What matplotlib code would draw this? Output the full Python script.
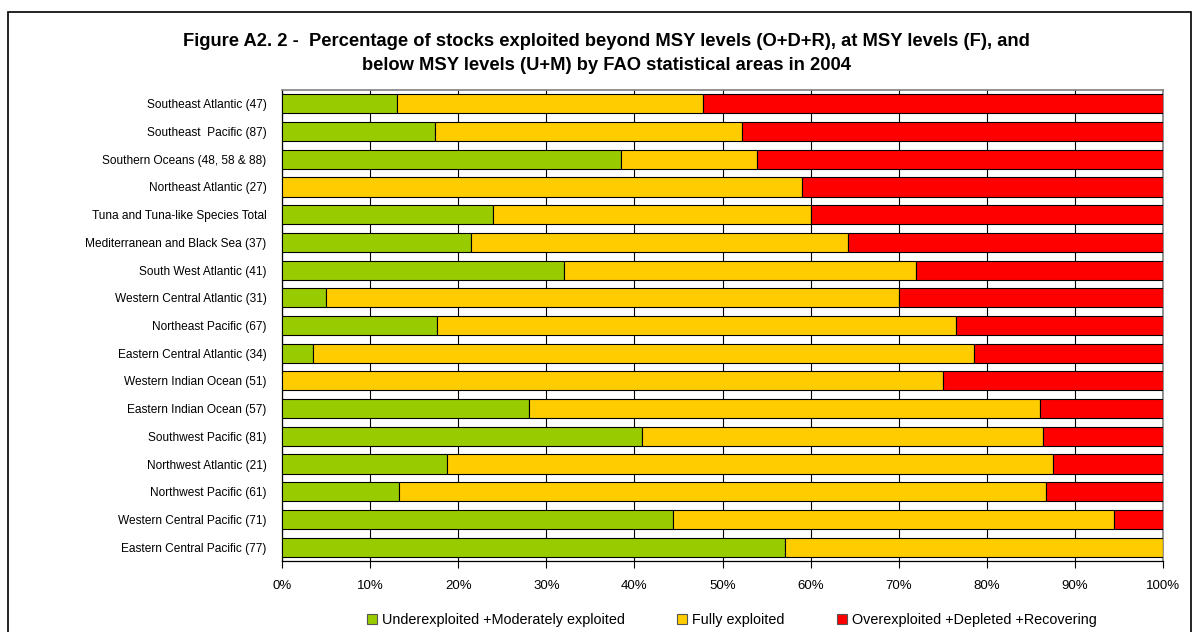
import matplotlib.pyplot as plt
import numpy as np
from matplotlib.patches import Rectangle

plt.rcParams['font.family'] = ['Liberation Sans', 'DejaVu Sans']

areas = [
    "Southeast Atlantic (47)",
    "Southeast  Pacific (87)",
    "Southern Oceans (48, 58 & 88)",
    "Northeast Atlantic (27)",
    "Tuna and Tuna-like Species Total",
    "Mediterranean and Black Sea (37)",
    "South West Atlantic (41)",
    "Western Central Atlantic (31)",
    "Northeast Pacific (67)",
    "Eastern Central Atlantic (34)",
    "Western Indian Ocean (51)",
    "Eastern Indian Ocean (57)",
    "Southwest Pacific (81)",
    "Northwest Atlantic (21)",
    "Northwest Pacific (61)",
    "Western Central Pacific (71)",
    "Eastern Central Pacific (77)",
]

# percent of stocks in each group
under_moderate = [13.0, 17.4, 38.5, 0.0, 24.0, 21.4, 32.0, 5.0, 17.6, 3.5,
                  0.0, 28.0, 40.9, 18.7, 13.3, 44.4, 57.1]
fully = [34.8, 34.8, 15.4, 59.0, 36.0, 42.9, 40.0, 65.0, 58.9, 75.0,
         75.0, 58.0, 45.5, 68.8, 73.4, 50.0, 42.9]
over_depleted = [52.2, 47.8, 46.1, 41.0, 40.0, 35.7, 28.0, 30.0, 23.5, 21.5,
                 25.0, 14.0, 13.6, 12.5, 13.3, 5.6, 0.0]

legend_labels = ["Underexploited +Moderately exploited",
                 "Fully exploited",
                 "Overexploited +Depleted +Recovering"]
colors = ["#99CC00", "#FFCC00", "#FF0000"]

W, H = 1198, 632
fig = plt.figure(figsize=(W / 100, H / 100), dpi=100)
ax = fig.add_axes([282 / W, 1 - 561 / H, (1163 - 282) / W, (561 - 90) / H])

y = np.arange(len(areas))
series = [under_moderate, fully, over_depleted]
left = np.zeros(len(areas))
for vals, col, lab in zip(series, colors, legend_labels):
    vals = np.array(vals)
    ax.barh(y, vals, left=left, height=0.69, color=col,
            edgecolor="black", linewidth=0.8, label=lab, zorder=3)
    left += vals

ax.set_xlim(0, 100)
ax.set_ylim(len(areas) - 0.5, -0.5)
ax.set_xticks(np.arange(0, 101, 10))
ax.set_xticklabels([f"{v}%" for v in range(0, 101, 10)], fontsize=9.5)
ax.set_yticks(y)
ax.set_yticklabels(areas, fontsize=8.6)
ax.tick_params(axis="y", length=0, pad=11)
ax.tick_params(axis="x", length=5, width=0.8, pad=8.5, direction="out")
ax.grid(axis="x", color="black", linewidth=0.8, zorder=0)
ax.set_axisbelow(True)

for side in ["top", "right"]:
    ax.spines[side].set_color("#808080")
    ax.spines[side].set_linewidth(1.2)
for side in ["left", "bottom"]:
    ax.spines[side].set_color("black")
    ax.spines[side].set_linewidth(0.9)

fig.text(606 / W, 1 - 42 / H,
         "Figure A2. 2 -  Percentage of stocks exploited beyond MSY levels (O+D+R), at MSY levels (F), and",
         ha="center", va="center", fontsize=13.2, fontweight="bold")
fig.text(606 / W, 1 - 65 / H,
         "below MSY levels (U+M) by FAO statistical areas in 2004",
         ha="center", va="center", fontsize=13.2, fontweight="bold")

leg_handles = [Rectangle((0, 0), 1, 1, facecolor=c, edgecolor="#555555", linewidth=0.8)
               for c in colors]
fig.legend(leg_handles, legend_labels, loc="center", ncol=3,
           bbox_to_anchor=(732 / W, 1 - 620 / H), frameon=False,
           fontsize=10.4, handlelength=0.7, handleheight=0.7,
           handletextpad=0.35, columnspacing=3.6, borderpad=0.2)

# outer chart border
fig.add_artist(Rectangle((8 / W, -0.01), (1191 - 8) / W, 1 - 12 / H + 0.01,
                         transform=fig.transFigure, fill=False,
                         edgecolor="black", linewidth=1.2))

fig.savefig("out.png", dpi=100)
